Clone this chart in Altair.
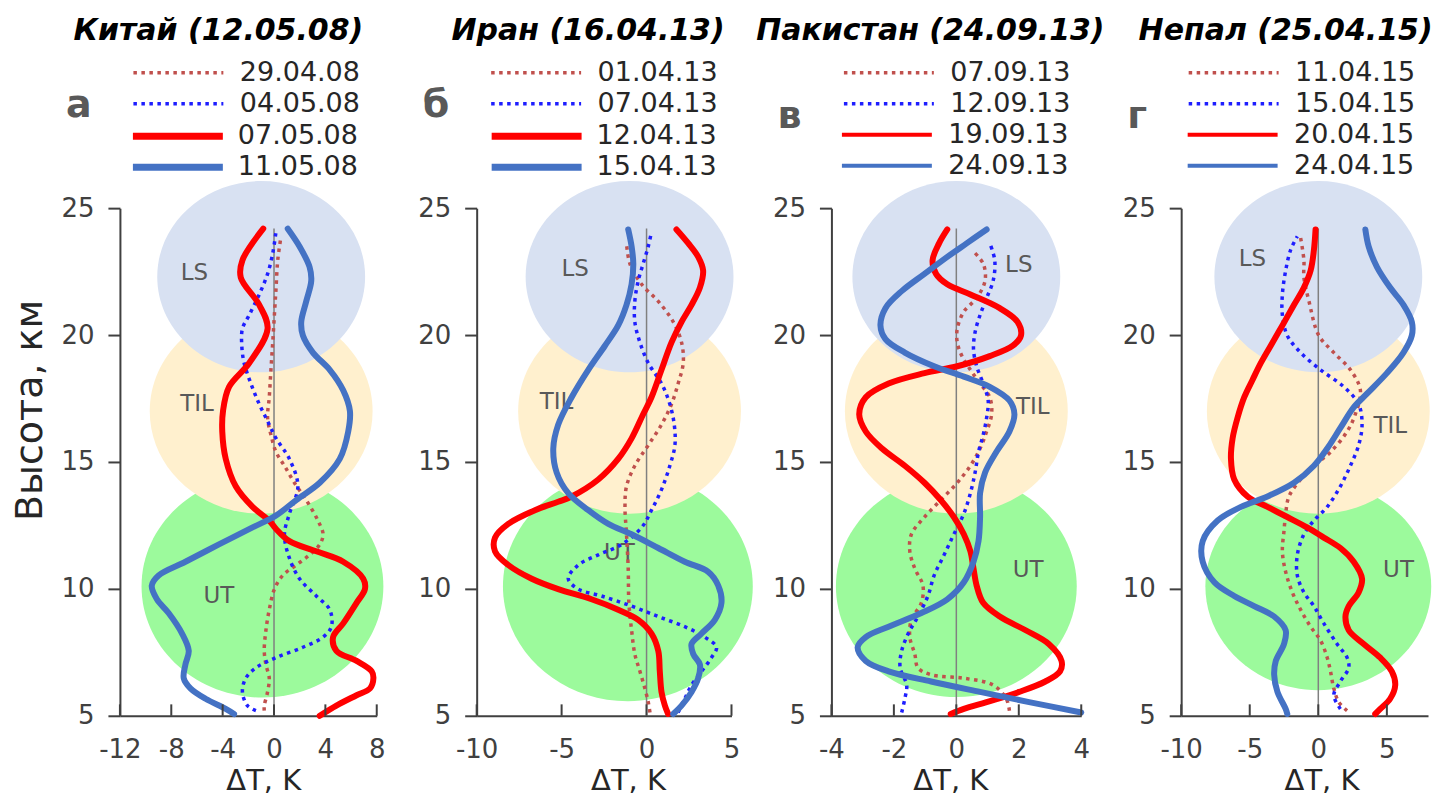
import math
import altair as alt
import pandas as pd

FONT = "DejaVu Sans"

# ---------------- text ----------------
TITLES = ["Китай (12.05.08)", "Иран (16.04.13)", "Пакистан (24.09.13)", "Непал (25.04.15)"]
LETTERS = ["а", "б", "в", "г"]
DATES_A = ["29.04.08", "04.05.08", "07.05.08", "11.05.08"]
DATES_B = ["01.04.13", "07.04.13", "12.04.13", "15.04.13"]
DATES_V = ["07.09.13", "12.09.13", "19.09.13", "24.09.13"]
DATES_G = ["11.04.15", "15.04.15", "20.04.15", "24.04.15"]

# ---------------- axes ----------------
Y_DOMAIN = [5, 25]
Y_TICKS = [5, 10, 15, 20, 25]
X_DOMAIN_A = [-12, 8]
X_TICKS_A = [-12, -8, -4, 0, 4, 8]
X_DOMAIN_B = [-10, 5]
X_TICKS_B = [-10, -5, 0, 5]
X_DOMAIN_V = [-4, 4]
X_TICKS_V = [-4, -2, 0, 2, 4]
X_DOMAIN_G = [-10, 8]
X_TICKS_G = [-10, -5, 0, 5]
ZERO_LINE_TOP = 24.2

# ---------------- layers (UT, TIL, LS) ----------------
ZONES = ["UT", "TIL", "LS"]
ZONE_CENTER_H = [10.1, 17.0, 22.3]
ZONE_CENTER_T_A = [-0.9, -1.0, -1.0]
ZONE_CENTER_T_B = [-1.1, -1.0, -1.0]
ZONE_CENTER_T_V = [0.0, 0.0, 0.0]
ZONE_CENTER_T_G = [0.0, 0.0, 0.0]
ZONE_LABEL_T_A = [-4.3, -6.0, -6.2]
ZONE_LABEL_H_A = [9.7, 17.3, 22.45]
ZONE_LABEL_T_B = [-1.6, -5.3, -4.2]
ZONE_LABEL_H_B = [11.4, 17.35, 22.6]
ZONE_LABEL_T_V = [2.3, 2.45, 2.0]
ZONE_LABEL_H_V = [10.75, 17.15, 22.75]
ZONE_LABEL_T_G = [5.85, 5.25, -4.8]
ZONE_LABEL_H_G = [10.75, 16.4, 23.0]

# ---------------- profiles: (height km, dT K) ----------------
A_RED_DOT = [(23.9, 0.55), (22.95, 0.29), (21.87, 0.16), (20.79, 0.03), (19.71, -0.10), (18.63, -0.24),
             (17.55, -0.37), (16.74, -0.50), (16.07, -0.24), (15.39, 0.16), (14.85, 0.81), (14.18, 1.59),
             (13.50, 2.51), (12.69, 3.42), (12.15, 3.82), (11.75, 3.56), (11.34, 2.77), (10.94, 1.73),
             (10.53, 0.68), (9.99, 0.03), (9.18, -0.37), (8.37, -0.63), (7.56, -0.76), (7.02, -0.63),
             (6.48, -0.37), (5.94, -0.50), (5.40, -0.76), (5.20, -0.76)]
A_BLUE_DOT = [(24.10, 0.16), (23.22, -0.10), (22.41, -0.50), (21.60, -1.15), (20.79, -1.93), (20.25, -2.46),
              (19.58, -2.51), (18.90, -2.33), (18.09, -1.80), (17.28, -1.15), (16.61, -0.50), (15.93, 0.16),
              (15.12, 1.20), (14.04, 1.86), (12.96, 1.20), (12.15, 0.81), (11.21, 1.20), (10.40, 1.99),
              (9.72, 3.29), (9.18, 4.34), (8.51, 4.47), (8.10, 3.82), (7.70, 2.25), (7.29, 0.16),
              (6.89, -1.41), (6.48, -2.20), (5.94, -2.46), (5.40, -2.07), (5.20, -1.41)]
A_RED = [(24.19, -0.84), (22.95, -2.46), (22.27, -2.59), (21.19, -1.15), (20.25, -0.50), (18.90, -1.93),
         (17.96, -3.50), (17.01, -3.97), (16.20, -4.03), (15.12, -3.76), (14.04, -2.98), (13.23, -1.67),
         (12.69, -0.37), (12.36, 0.16), (11.88, 1.20), (11.48, 3.29), (11.07, 5.39), (10.40, 6.95),
         (9.99, 7.08), (9.45, 6.43), (8.64, 5.39), (8.10, 4.60), (7.56, 4.86), (7.16, 6.43), (6.75, 7.61),
         (6.48, 7.74), (6.08, 7.48), (5.81, 6.43), (5.40, 4.86), (5.00, 3.56)]
A_BLUE = [(24.19, 1.07), (23.49, 1.99), (22.68, 2.77), (22.14, 2.90), (21.33, 2.51), (20.52, 2.12),
          (19.98, 2.25), (19.31, 3.03), (18.63, 4.34), (17.82, 5.39), (17.01, 5.91), (16.20, 5.78),
          (15.12, 5.12), (14.18, 3.56), (13.50, 1.73), (12.89, 0.16), (12.42, -1.67), (11.75, -4.29),
          (11.07, -6.90), (10.53, -8.99), (10.13, -9.52), (9.59, -9.12), (9.05, -8.21), (8.24, -7.16),
          (7.56, -6.64), (7.02, -6.90), (6.48, -7.03), (6.08, -6.51), (5.67, -5.33), (5.27, -3.76),
          (5.07, -3.11)]

B_RED_DOT = [(23.62, -1.18), (22.81, -0.98), (22.00, -0.29), (21.33, 0.69), (20.52, 1.57), (19.71, 2.06),
             (18.90, 2.16), (18.09, 1.86), (17.28, 1.47), (16.47, 0.88), (15.66, 0.10), (14.85, -0.69),
             (14.04, -1.18), (13.23, -1.27), (12.15, -1.18), (10.80, -1.08), (9.45, -1.04), (8.37, -0.88),
             (7.43, -0.69), (6.75, -0.39), (6.08, -0.10), (5.54, 0.10), (5.13, 0.20)]
B_BLUE_DOT = [(24.06, 0.29), (23.49, 0.10), (22.81, -0.20), (22.14, -0.49), (21.33, -0.69), (20.52, -0.69),
              (19.71, -0.39), (18.90, 0.10), (18.09, 0.88), (17.28, 1.37), (16.47, 1.63), (15.66, 1.67),
              (14.85, 1.37), (13.91, 0.88), (13.10, 0.29), (12.42, -0.29), (11.75, -1.47), (11.34, -2.84),
              (10.94, -4.02), (10.40, -4.61), (9.99, -4.02), (9.72, -2.65), (9.32, -0.88), (8.91, 0.69),
              (8.51, 2.25), (8.10, 3.43), (7.70, 4.12), (7.29, 3.82), (6.75, 3.24), (6.21, 2.65),
              (5.67, 2.25), (5.13, 1.86)]
B_RED = [(24.16, 1.76), (23.62, 2.45), (23.08, 3.04), (22.54, 3.33), (21.87, 3.14), (21.19, 2.65),
         (20.52, 2.06), (19.71, 1.47), (18.63, 0.88), (17.55, 0.29), (16.88, -0.20), (15.93, -0.88),
         (15.12, -1.67), (14.31, -2.84), (13.64, -4.41), (13.43, -5.20), (13.10, -6.57), (12.56, -8.14),
         (12.02, -8.92), (11.48, -8.92), (10.94, -8.14), (10.40, -6.76), (9.99, -5.20), (9.59, -3.24),
         (9.18, -1.67), (8.78, -0.49), (8.24, 0.29), (7.56, 0.69), (6.75, 0.78), (5.94, 0.88),
         (5.40, 1.08), (5.07, 1.27)]
B_BLUE = [(24.16, -1.08), (23.49, -0.88), (22.81, -0.78), (22.00, -0.88), (21.19, -1.18), (20.38, -1.67),
          (19.58, -2.45), (18.63, -3.43), (17.55, -4.41), (16.47, -5.20), (15.53, -5.49), (14.58, -5.29),
          (13.77, -4.61), (13.10, -3.43), (12.56, -2.25), (12.15, -0.88), (11.61, 0.69), (11.07, 2.25),
          (10.67, 3.63), (10.13, 4.22), (9.45, 4.41), (8.78, 4.02), (8.24, 3.24), (7.83, 2.65),
          (7.43, 2.75), (7.02, 3.14), (6.48, 3.04), (5.94, 2.65), (5.40, 2.06), (5.07, 1.57)]

V_RED_DOT = [(23.35, 0.50), (22.81, 0.86), (22.14, 0.92), (21.46, 0.65), (20.92, 0.24), (20.25, 0.03),
             (19.71, 0.03), (19.17, 0.18), (18.63, 0.45), (18.09, 0.76), (17.55, 1.07), (16.88, 1.13),
             (16.20, 0.97), (15.53, 0.76), (14.85, 0.45), (14.18, 0.03), (13.50, -0.50), (12.83, -1.02),
             (12.15, -1.44), (11.48, -1.49), (10.80, -1.33), (10.13, -1.07), (9.45, -1.12), (8.78, -1.44),
             (8.10, -1.49), (7.43, -1.33), (6.89, -1.23), (6.62, -0.81), (6.48, 0.24), (6.21, 1.18),
             (5.67, 1.60), (5.20, 1.70)]
V_BLUE_DOT = [(23.62, 1.07), (22.95, 1.23), (22.14, 1.18), (21.46, 0.97), (20.79, 0.76), (20.11, 0.60),
              (19.44, 0.55), (18.77, 0.65), (18.09, 0.86), (17.42, 1.02), (16.74, 0.97), (16.07, 0.86),
              (15.39, 0.71), (14.58, 0.60), (13.77, 0.45), (12.96, 0.24), (12.15, -0.08), (11.34, -0.39),
              (10.53, -0.71), (9.72, -0.91), (8.91, -1.23), (8.24, -1.54), (7.56, -1.75), (6.89, -1.80),
              (6.21, -1.59), (5.67, -1.65), (5.13, -1.75)]
V_RED = [(24.16, -0.29), (23.62, -0.55), (22.95, -0.76), (22.41, -0.65), (22.00, -0.29), (21.60, 0.45),
         (21.06, 1.39), (20.52, 1.96), (19.98, 2.07), (19.58, 1.81), (19.17, 1.07), (18.77, 0.03),
         (18.50, -1.02), (18.09, -2.17), (17.55, -2.90), (16.88, -3.11), (16.20, -2.90), (15.53, -2.38),
         (14.85, -1.65), (14.18, -1.02), (13.50, -0.50), (12.83, -0.08), (12.15, 0.24), (11.48, 0.45),
         (10.80, 0.55), (10.13, 0.65), (9.45, 0.86), (8.91, 1.39), (8.37, 2.22), (7.83, 2.96),
         (7.16, 3.37), (6.75, 3.32), (6.35, 2.85), (5.94, 2.01), (5.54, 0.97), (5.27, 0.24), (5.07, -0.18)]
V_BLUE = [(24.16, 0.97), (23.62, 0.34), (23.08, -0.29), (22.41, -1.02), (21.73, -1.75), (21.06, -2.27),
          (20.38, -2.43), (19.84, -2.27), (19.31, -1.65), (18.77, -0.71), (18.36, 0.24), (17.96, 1.07),
          (17.42, 1.70), (16.88, 1.86), (16.20, 1.70), (15.39, 1.28), (14.58, 0.92), (13.77, 0.76),
          (12.83, 0.76), (11.88, 0.71), (11.07, 0.55), (10.26, 0.24), (9.59, -0.29), (9.05, -1.12),
          (8.51, -2.17), (8.10, -2.90), (7.70, -3.16), (7.16, -2.90), (6.75, -2.17), (6.35, -0.81),
          (5.94, 0.76), (5.54, 2.33), (5.13, 4.00)]

G_RED_DOT = [(23.83, -1.29), (22.95, -1.05), (22.27, -1.05), (21.33, -0.68), (19.98, 0.04), (19.31, 1.13),
             (18.63, 2.34), (17.82, 3.07), (16.88, 2.70), (16.20, 2.10), (15.39, 0.89), (14.85, -0.32),
             (14.31, -1.29), (13.64, -2.14), (12.96, -2.38), (12.29, -2.50), (11.48, -2.62), (10.67, -2.38),
             (9.86, -1.89), (9.18, -1.29), (8.51, -0.56), (7.97, 0.16), (7.29, 0.65), (6.75, 0.89),
             (6.08, 1.13), (5.54, 1.49), (5.20, 2.10)]
G_BLUE_DOT = [(23.89, -1.53), (23.35, -2.02), (22.54, -2.38), (21.60, -2.62), (20.79, -2.62), (19.98, -2.26),
              (19.31, -1.29), (18.63, 0.16), (17.96, 1.86), (17.28, 2.94), (16.47, 3.19), (15.66, 2.94),
              (14.85, 2.34), (14.04, 1.61), (13.23, 0.65), (12.69, -0.32), (12.15, -1.05), (11.34, -1.53),
              (10.53, -1.53), (9.86, -1.05), (9.32, -0.32), (8.64, 0.40), (7.83, 1.37), (7.29, 2.10),
              (6.89, 2.22), (6.35, 1.61), (5.81, 1.13), (5.27, 1.61)]
G_RED = [(24.16, -0.20), (23.35, -0.32), (22.54, -0.56), (21.87, -1.05), (21.19, -1.77), (20.38, -2.62),
         (19.58, -3.47), (18.90, -4.19), (18.23, -4.80), (17.55, -5.40), (16.74, -5.89), (15.93, -6.25),
         (15.12, -6.37), (14.31, -6.13), (13.64, -5.16), (13.23, -3.71), (12.83, -2.26), (12.42, -0.81),
         (12.02, 0.40), (11.61, 1.61), (11.07, 2.58), (10.40, 3.19), (9.86, 2.94), (9.32, 2.22),
         (8.91, 1.98), (8.37, 2.22), (7.83, 3.31), (7.29, 4.52), (6.75, 5.36), (6.21, 5.61),
         (5.67, 5.24), (5.27, 4.52), (5.07, 4.15)]
G_BLUE = [(24.16, 3.43), (23.49, 3.67), (22.68, 4.28), (21.87, 5.24), (21.19, 6.21), (20.52, 6.82),
          (19.98, 6.82), (19.31, 6.21), (18.50, 5.00), (17.69, 3.55), (17.15, 2.58), (16.34, 1.61),
          (15.53, 0.65), (14.85, -0.32), (14.18, -1.77), (13.64, -3.71), (13.23, -5.64), (12.69, -7.34),
          (11.88, -8.43), (11.07, -8.43), (10.26, -7.58), (9.72, -6.13), (9.32, -4.68), (8.91, -3.22),
          (8.37, -2.38), (7.83, -2.50), (7.16, -3.10), (6.62, -3.22), (5.94, -2.98), (5.27, -2.38),
          (5.07, -2.26)]

# ---------------- styles ----------------
DOT_COLORS = ["#C0504D", "#1E1EFF"]
SOLID_COLORS = ["#FF0000", "#4472C4"]
ZONE_FILLS = ["#9CFA9C", "#FFF0CE", "#D8E1F2"]
ELLIPSE = "M-1,0A1,0.92,0,1,1,1,0A1,0.92,0,1,1,-1,0Z"
LEGEND_LINE = "M-3.6,0H3.6"
AX = "#404040"
LEG_FONT = 27
SYM_OFFSET = 30
LABEL_X = 106  # label start relative to legend entries


def entry_offset(sw):
    return max(math.ceil(25 + sw), LEG_FONT)


def make_panel(idx, dates, curves, xdom, xticks, zone_t, lab_t, lab_h, width, solid_w,
               zone_w, xtitle_shift, title_dx, solid_leg_x, letter_baseline):
    rows = []
    for d, pts in zip(dates, curves):
        for h, t in pts:
            rows.append({"date": d, "h": h, "t": t})
    df = pd.DataFrame(rows)
    dot_df = df[df["date"].isin(dates[:2])]
    sol_df = df[df["date"].isin(dates[2:])]

    x = alt.X("t:Q", scale=alt.Scale(domain=xdom, nice=False, zero=False),
              axis=alt.Axis(values=xticks, ticks=False, labelPadding=21, labelExpr="'' + datum.value",
                            labelOverlap=False, labelFlush=False,
                            title="ΔT, K", titleFontSize=29, titlePadding=4,
                            titleX=width / 2 + xtitle_shift))
    if idx == 0:
        yaxis = alt.Axis(values=Y_TICKS, tickSize=12, labelPadding=14, labelFlush=False,
                         labelOverlap=False, title="Высота, км",
                         titleFontSize=38, titlePadding=11, titleY=202)
    else:
        yaxis = alt.Axis(values=Y_TICKS, tickSize=12, labelPadding=14, labelFlush=False,
                         labelOverlap=False, title=None)
    y = alt.Y("h:Q", scale=alt.Scale(domain=Y_DOMAIN, nice=False, zero=False), axis=yaxis)

    layers = []
    for z, zt, zh, fill, w in zip(ZONES, zone_t, ZONE_CENTER_H, ZONE_FILLS, zone_w):
        zdf = pd.DataFrame({"zone": [z], "t": [zt], "h": [zh]})
        layers.append(alt.Chart(zdf).mark_point(shape=ELLIPSE, filled=True, fill=fill, opacity=1,
                                                size=w * w, strokeOpacity=0).encode(x=x, y=y))
    ldf = pd.DataFrame({"zone": ZONES, "t": lab_t, "h": lab_h})
    layers.append(alt.Chart(ldf).mark_text(font=FONT, fontSize=23, color="#595959")
                  .encode(x=x, y=y, text="zone:N"))
    zdf = pd.DataFrame({"t": [0], "h": [Y_DOMAIN[0]], "h2": [ZERO_LINE_TOP]})
    layers.append(alt.Chart(zdf).mark_rule(color="#808080", strokeWidth=1.5)
                  .encode(x=x, y=y, y2="h2:Q"))

    common = dict(orient="none", direction="vertical",
                  symbolType=LEGEND_LINE, symbolSize=625, symbolOffset=SYM_OFFSET,
                  labelFont=FONT, labelFontSize=LEG_FONT, labelColor="#262626", padding=0)
    dot_leg = alt.Legend(title=LETTERS[idx], titleOrient="left", titleAnchor="end",
                         titleBaseline=letter_baseline, titleFont=FONT, titleFontSize=38,
                         titleFontWeight="bold", titlePadding=42, titleColor="#595959",
                         legendX=-54, legendY=-150, rowPadding=3,
                         labelOffset=LABEL_X - SYM_OFFSET - entry_offset(3.5),
                         symbolStrokeWidth=3.5, symbolDash=[3.5, 4.5], **common)
    sol_leg = alt.Legend(title=None, legendX=solid_leg_x, legendY=-88,
                         rowPadding=1 if solid_w > 5 else 3,
                         labelOffset=LABEL_X - SYM_OFFSET - entry_offset(solid_w),
                         symbolStrokeWidth=solid_w, **common)

    layers.append(alt.Chart(dot_df).mark_line(strokeWidth=3.5, strokeDash=[3.5, 4.5],
                                              interpolate="catmull-rom")
                  .encode(x=x, y=y, order="h:Q",
                          color=alt.Color("date:N", scale=alt.Scale(domain=dates[:2], range=DOT_COLORS),
                                          legend=dot_leg)))
    layers.append(alt.Chart(sol_df).mark_line(strokeWidth=6, strokeCap="round", strokeJoin="round",
                                              interpolate="catmull-rom")
                  .encode(x=x, y=y, order="h:Q",
                          color=alt.Color("date:N", scale=alt.Scale(domain=dates[2:], range=SOLID_COLORS),
                                          legend=sol_leg)))
    tdf = pd.DataFrame({"t": xticks, "h": [Y_DOMAIN[0]] * len(xticks), "h2": [5.45] * len(xticks)})
    layers.append(alt.Chart(tdf).mark_rule(color=AX, strokeWidth=2).encode(x=x, y=y, y2="h2:Q"))

    return alt.layer(*layers).resolve_scale(color="independent").properties(
        width=width, height=508,
        title=alt.TitleParams(TITLES[idx], font=FONT, fontSize=30, fontStyle="italic", fontWeight="bold",
                              color="#000000", anchor="middle", frame="group", dx=title_dx, offset=12))


panels = [
    make_panel(0, DATES_A, [A_RED_DOT, A_BLUE_DOT, A_RED, A_BLUE], X_DOMAIN_A, X_TICKS_A,
               ZONE_CENTER_T_A, ZONE_LABEL_T_A, ZONE_LABEL_H_A, 257, 7, [242, 223, 208], 15, -30, 12,
               "alphabetic"),
    make_panel(1, DATES_B, [B_RED_DOT, B_BLUE_DOT, B_RED, B_BLUE], X_DOMAIN_B, X_TICKS_B,
               ZONE_CENTER_T_B, ZONE_LABEL_T_B, ZONE_LABEL_H_B, 255, 7, [250, 223, 208], 24, -16, 14,
               "alphabetic"),
    make_panel(2, DATES_V, [V_RED_DOT, V_BLUE_DOT, V_RED, V_BLUE], X_DOMAIN_V, X_TICKS_V,
               ZONE_CENTER_T_V, ZONE_LABEL_T_V, ZONE_LABEL_H_V, 250, 4, [241, 223, 208], -6, -26, 11,
               "middle"),
    make_panel(3, DATES_G, [G_RED_DOT, G_BLUE_DOT, G_RED, G_BLUE], X_DOMAIN_G, X_TICKS_G,
               ZONE_CENTER_T_G, ZONE_LABEL_T_G, ZONE_LABEL_H_G, 247, 4, [226, 223, 208], 17, -19, 7,
               "middle"),
]

chart = alt.hconcat(*panels, spacing=100, bounds="flush").configure(
    font=FONT, padding={"left": 3, "top": 8, "right": 0, "bottom": 0}
).configure_view(stroke=None).configure_axis(
    grid=False, domainColor=AX, domainWidth=2, tickColor=AX, tickWidth=2,
    labelFont=FONT, labelFontSize=26, labelColor=AX,
    titleFont=FONT, titleFontWeight="normal", titleColor="#262626"
)

chart.save("out.html", embed_options={"renderer": "svg", "actions": False})
